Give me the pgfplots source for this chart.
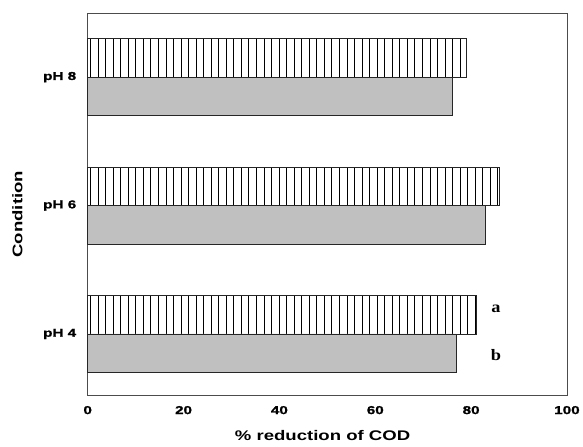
\documentclass[border=0pt]{standalone}
\usepackage{fontspec}
\setmainfont{Liberation Sans}
\newfontfamily\wide{Liberation Sans}[FakeStretch=1.33,FakeBold=1.2]
\newfontfamily\widel{Liberation Sans}[FakeStretch=1.33]
\newfontfamily\serifw{Liberation Serif}[FakeStretch=1.15]
\usepackage{pgfplots}
\pgfplotsset{compat=1.18}
\usetikzlibrary{patterns.meta}
\definecolor{bargray}{RGB}{192,192,192}
\begin{document}
\begin{tikzpicture}
\begin{axis}[
  xbar,
  scale only axis,
  width=481bp, height=384bp,
  xmin=0, xmax=100,
  ymin=-0.48, ymax=2.5,
  xtick={0,20,40,60,80,100},
  ytick={0,1,2},
  yticklabels={pH 4,pH 6,pH 8},
  major tick length=0pt,
  axis line style={black!70, line width=0.8pt},
  /pgf/number format/assume math mode=true,
  tick label style={font=\wide\bfseries\fontsize{11.5bp}{13bp}\selectfont},
  xticklabel shift=7bp,
  yticklabel shift=8bp,
  xlabel={\% reduction of COD},
  ylabel={Condition},
  label style={font=\widel\bfseries\fontsize{14bp}{16bp}\selectfont},
  xlabel style={at={(axis description cs:0.49,-0.104)}, anchor=center},
  ylabel style={at={(axis description cs:-0.1466,0.474)}, anchor=center, rotate=0},
  bar width=0.3,
  clip=false,
]
\addplot[bar shift=0.15, draw=black!85, line width=0.7pt,
  pattern={Lines[angle=90,distance=7.57bp,line width=0.9bp]}, pattern color=black]
  coordinates {(81.0,0) (85.9,1) (79.1,2)};
\addplot[bar shift=-0.15, draw=black!85, line width=0.7pt, fill=bargray]
  coordinates {(76.9,0) (83.0,1) (76.1,2)};
\node[font=\serifw\bfseries\fontsize{16bp}{18bp}\selectfont] at (axis cs:85.2,0.195) {a};
\node[font=\serifw\bfseries\fontsize{16bp}{18bp}\selectfont] at (axis cs:85.2,-0.163) {b};
\end{axis}
\path (current axis.south west) ++(-88bp,-51bp) rectangle ++(583bp,448bp);
\end{tikzpicture}
\end{document}
